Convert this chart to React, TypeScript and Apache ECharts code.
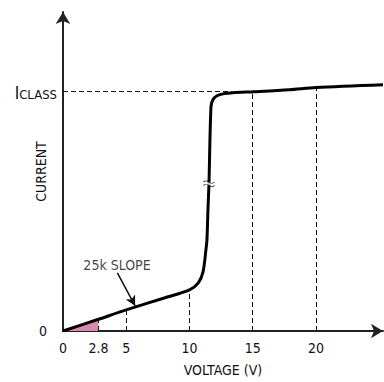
import React, { useEffect, useRef } from "react";
import * as echarts from "echarts";

// I-V curve (voltage in V, current in units of ICLASS)
const CURVE_V = [0, 2.8, 5, 8, 10, 10.7, 11.07, 11.3, 11.38, 11.46, 11.54, 11.7, 11.86, 12.17, 12.73, 13.44, 15.1, 17.9, 20, 25.3];
const CURVE_I = [0, 0.049, 0.088, 0.138, 0.172, 0.201, 0.247, 0.339, 0.381, 0.506, 0.615, 0.937, 0.967, 0.983, 0.992, 0.996, 1.0, 1.008, 1.017, 1.029];

const X_TICKS = [0, 2.8, 5, 10, 15, 20];
const Y_TICKS = [0, 1];
const Y_TICK_LABELS = ["0", "ICLASS"];
const GUIDE_V = [2.8, 5, 10, 15, 20];
const PINK_END_V = 2.8;
const ICLASS_VALUE = 1;
const ICLASS_GUIDE_END_V = 13.4;
const SLOPE_LABEL = "25k SLOPE";
const SLOPE_TEXT_AT = [4.27, 0.276];
const SLOPE_ARROW_FROM = [4.3, 0.243];
const SLOPE_ARROW_TO = [5.7, 0.105];
const BREAK_AT = [11.54, 0.615];

const X_MAX = 25.3;
const Y_MAX = 1.333;

const FONT = "'Liberation Sans Narrow', 'Arial Narrow', 'DejaVu Sans Condensed', sans-serif";

function currentAt(v: number): number {
  for (let i = 1; i < CURVE_V.length; i++) {
    if (v <= CURVE_V[i]) {
      const t = (v - CURVE_V[i - 1]) / (CURVE_V[i] - CURVE_V[i - 1]);
      return CURVE_I[i - 1] + t * (CURVE_I[i] - CURVE_I[i - 1]);
    }
  }
  return CURVE_I[CURVE_I.length - 1];
}

export default function App() {
  const ref = useRef<HTMLDivElement>(null);
  useEffect(() => {
    if (!ref.current) return;
    const chart = echarts.init(ref.current, undefined, { renderer: "svg" });
    const curve = CURVE_V.map((v, i) => [v, CURVE_I[i]]);
    const pink = curve.filter((p) => p[0] <= PINK_END_V);
    const guideLines: any[] = GUIDE_V.map((v) => [
      { coord: [v, 0] },
      { coord: [v, currentAt(v)] },
    ]);
    guideLines.push([{ coord: [0, ICLASS_VALUE] }, { coord: [ICLASS_GUIDE_END_V, ICLASS_VALUE] }]);

    chart.setOption({
      animation: false,
      textStyle: { fontFamily: FONT, color: "#111" },
      grid: { left: 63, right: 1, top: 12, bottom: 51, containLabel: false, outerBoundsMode: "none" },
      xAxis: {
        type: "value",
        min: 0,
        max: X_MAX,
        splitLine: { show: false },
        axisTick: { show: false },
        axisLine: {
          lineStyle: { color: "#222", width: 2 },
          symbol: ["none", "arrow"],
          symbolSize: [11, 12],
        },
        axisLabel: {
          customValues: X_TICKS,
          fontSize: 14,
          color: "#111",
          margin: 10,
          fontFamily: FONT,
          formatter: (v: number) => String(v),
        },
        name: "VOLTAGE (V)",
        nameLocation: "middle",
        nameGap: 32,
        nameMoveOverlap: false,
        nameTextStyle: { fontSize: 14, color: "#111", fontFamily: FONT },
      },
      yAxis: {
        type: "value",
        min: 0,
        max: Y_MAX,
        splitLine: { show: false },
        axisTick: { show: false },
        axisLine: {
          lineStyle: { color: "#222", width: 2 },
          symbol: ["none", "arrow"],
          symbolSize: [11, 12],
        },
        axisLabel: {
          customValues: Y_TICKS,
          margin: 6,
          fontFamily: FONT,
          formatter: (v: number) => {
            const idx = Y_TICKS.indexOf(v);
            const lab = Y_TICK_LABELS[idx];
            if (lab === "ICLASS") return "{i|I}{s|CLASS}";
            return "{z|" + lab + "}";
          },
          rich: {
            i: { fontSize: 17, color: "#111", fontFamily: FONT, verticalAlign: "bottom" },
            s: { fontSize: 13, color: "#111", fontFamily: FONT, padding: [6, 0, 0, 0], verticalAlign: "bottom" },
            z: { fontSize: 14, color: "#111", fontFamily: FONT, padding: [0, 10, 0, 0] },
          },
        },
        name: "CURRENT",
        nameLocation: "middle",
        nameRotate: 90,
        nameGap: 15,
        nameMoveOverlap: false,
        nameTextStyle: { fontSize: 14, color: "#111", fontFamily: FONT },
      },
      series: [
        {
          type: "line",
          data: pink,
          symbol: "none",
          lineStyle: { width: 0 },
          areaStyle: { color: "#d98aae", opacity: 1 },
          silent: true,
          z: 1,
        },
        {
          type: "line",
          data: [],
          silent: true,
          markLine: {
            silent: true,
            symbol: ["none", "none"],
            label: { show: false },
            lineStyle: { type: [5, 3], color: "#111", width: 1 },
            data: guideLines,
          },
          z: 2,
        },
        {
          type: "line",
          data: curve,
          symbol: "none",
          smooth: 0.3,
          lineStyle: { color: "#000", width: 3 },
          silent: true,
          z: 3,
          markLine: {
            silent: true,
            symbol: ["none", "arrow"],
            symbolSize: [8, 10],
            label: { show: false },
            lineStyle: { type: "solid", color: "#111", width: 1.5 },
            data: [[{ coord: SLOPE_ARROW_FROM }, { coord: SLOPE_ARROW_TO }]],
          },
        },
        {
          type: "scatter",
          data: [BREAK_AT],
          symbol: "rect",
          symbolSize: [8, 3],
          itemStyle: { color: "#fff" },
          silent: true,
          z: 4,
        },
        {
          type: "scatter",
          data: [BREAK_AT],
          symbol: "path://M0,3 C2,0 4,0 6,3 C8,6 10,6 12,3 M0,9 C2,6 4,6 6,9 C8,12 10,12 12,9",
          symbolSize: [11, 6],
          itemStyle: { color: "rgba(0,0,0,0)", borderColor: "#000", borderWidth: 1 },
          silent: true,
          z: 5,
        },
        {
          type: "scatter",
          data: [SLOPE_TEXT_AT],
          symbolSize: 1,
          itemStyle: { color: "rgba(0,0,0,0)" },
          silent: true,
          label: {
            show: true,
            position: "inside",
            formatter: SLOPE_LABEL,
            fontSize: 14,
            color: "#111",
            textBorderWidth: 0,
            fontFamily: FONT,
          },
          z: 5,
        },
      ],
    });
    return () => chart.dispose();
  }, []);
  return <div ref={ref} style={{ width: 384, height: 382, position: "absolute", left: 0, top: 0 }} />;
}
